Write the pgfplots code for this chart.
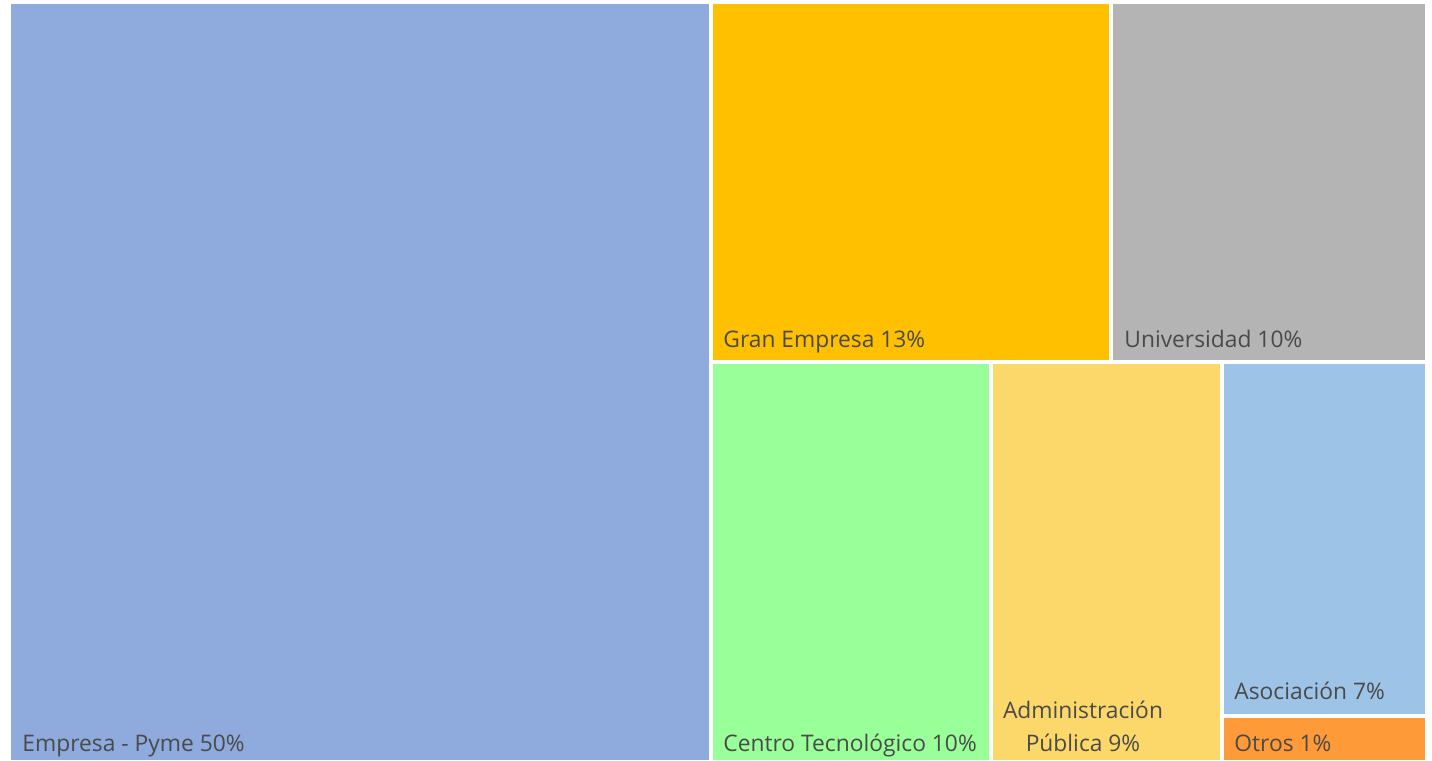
\documentclass[border=0pt]{standalone}
\usepackage{pgfplots}
\pgfplotsset{compat=1.18}
\usepackage{fontspec}
\setmainfont{Open Sans}
\definecolor{cEmp}{HTML}{8FAADC}
\definecolor{cGran}{HTML}{FFC000}
\definecolor{cUni}{HTML}{B4B4B4}
\definecolor{cCen}{HTML}{99FF99}
\definecolor{cAdm}{HTML}{FCD86A}
\definecolor{cAso}{HTML}{9DC3E6}
\definecolor{cOtr}{HTML}{FF9A38}
\definecolor{txt}{HTML}{4A4A4A}
\tikzset{lbl/.style={font=\fontsize{11.4}{13}\selectfont, text=txt, inner sep=0pt}}
\begin{document}
\begin{tikzpicture}
\begin{axis}[
  width=716pt, height=380pt, scale only axis,
  xmin=0, xmax=1432, ymin=0, ymax=760, y dir=reverse,
  hide axis, clip=false,
]
\path (rel axis cs:0,0) rectangle (rel axis cs:1,1);
% Treemap tiles (pixel rectangles x1,y1 to x2,y2)
\addplot[fill=cEmp, draw=none] coordinates {(11,4) (709,4) (709,760) (11,760)} -- cycle;
\addplot[fill=cGran, draw=none] coordinates {(713,4) (1109,4) (1109,360) (713,360)} -- cycle;
\addplot[fill=cUni, draw=none] coordinates {(1113,4) (1425,4) (1425,360) (1113,360)} -- cycle;
\addplot[fill=cCen, draw=none] coordinates {(713,364) (989,364) (989,760) (713,760)} -- cycle;
\addplot[fill=cAdm, draw=none] coordinates {(993,364) (1220,364) (1220,760) (993,760)} -- cycle;
\addplot[fill=cAso, draw=none] coordinates {(1224,364) (1425,364) (1425,714) (1224,714)} -- cycle;
\addplot[fill=cOtr, draw=none] coordinates {(1224,718) (1425,718) (1425,760) (1224,760)} -- cycle;
\node[lbl, anchor=base west] at (axis cs:22,751) {Empresa - Pyme 50\%};
\node[lbl, anchor=base west] at (axis cs:723,347) {Gran Empresa 13\%};
\node[lbl, anchor=base west] at (axis cs:1124,347) {Universidad 10\%};
\node[lbl, anchor=base west] at (axis cs:723,751) {Centro Tecnológico 10\%};
\node[lbl, anchor=base] at (axis cs:1083,718) {Administración};
\node[lbl, anchor=base] at (axis cs:1083,751) {Pública 9\%};
\node[lbl, anchor=base west] at (axis cs:1234,699) {Asociación 7\%};
\node[lbl, anchor=base west] at (axis cs:1234,751) {Otros 1\%};
\end{axis}
\end{tikzpicture}
\end{document}
